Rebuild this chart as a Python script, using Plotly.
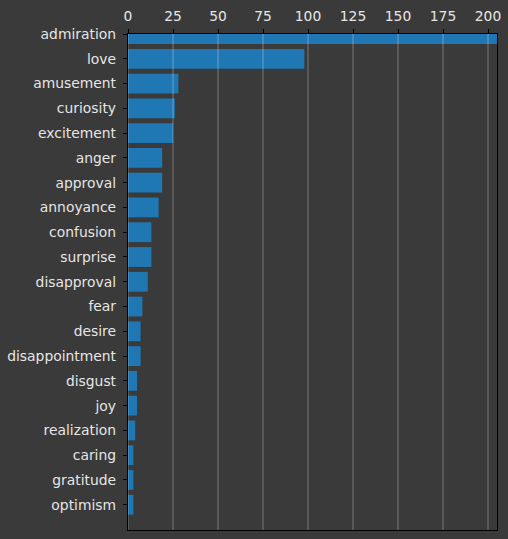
import plotly.graph_objects as go

categories = ["admiration", "love", "amusement", "curiosity", "excitement", "anger",
              "approval", "annoyance", "confusion", "surprise", "disapproval", "fear",
              "desire", "disappointment", "disgust", "joy", "realization", "caring",
              "gratitude", "optimism"]
counts = [228, 98, 28, 26, 25, 19, 19, 17, 13, 13, 11, 8, 7, 7, 5, 5, 4, 3, 3, 3]
x_ticks = [0, 25, 50, 75, 100, 125, 150, 175, 200]

BG = "#3a3a3a"
TXT = "#e6e6e6"
FS = 13.89

fig = go.Figure(go.Bar(
    x=counts, y=categories, orientation="h", width=0.8,
    marker=dict(color="#1f77b4", line=dict(width=0)),
    hoverinfo="skip",
))

# gridlines drawn above bars (as in the reference)
for t in x_ticks:
    fig.add_shape(type="line", xref="x", yref="paper", x0=t, x1=t, y0=0, y1=1,
                  line=dict(color="rgba(255,255,255,0.32)", width=1), layer="above")

fig.update_layout(
    template="none",
    width=508, height=539,
    paper_bgcolor=BG, plot_bgcolor=BG,
    margin=dict(l=128, r=11, t=34, b=9),
    font=dict(family="DejaVu Sans", size=FS, color=TXT),
    showlegend=False,
    bargap=0.2,
)
fig.update_xaxes(
    side="top", range=[0, 205], tickvals=x_ticks, ticktext=[str(t) for t in x_ticks],
    showgrid=False, zeroline=False,
    showline=True, mirror=True, linecolor="black", linewidth=1.3,
    ticks="outside", ticklen=4, tickwidth=1, tickcolor="black",
    tickfont=dict(size=FS, color=TXT), ticklabelstandoff=2,
)
fig.update_yaxes(
    type="category", categoryorder="array", categoryarray=categories,
    range=[20.02, -0.001], autorange=False,
    showgrid=False, zeroline=False,
    showline=True, mirror=True, linecolor="black", linewidth=1.3,
    ticks="outside", ticklen=4, tickwidth=1, tickcolor="black",
    tickfont=dict(size=FS, color=TXT), ticklabelstandoff=4,
)

fig.write_html(
    "out.html",
    config={"displayModeBar": False},
    post_script="document.body.style.margin='0';document.body.style.background='#3a3a3a';",
)
